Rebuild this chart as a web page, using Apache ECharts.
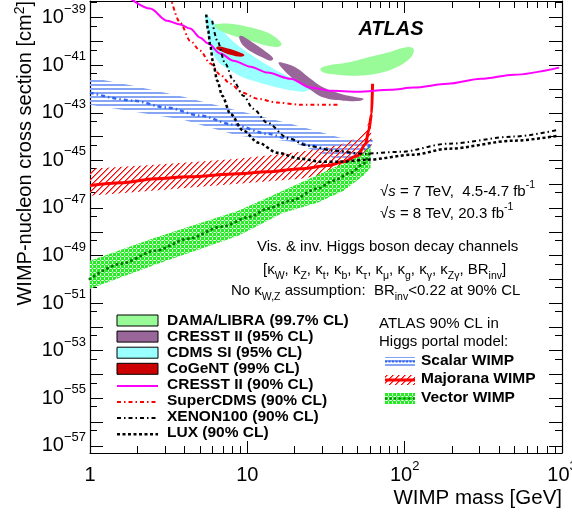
<!DOCTYPE html>
<html><head><meta charset="utf-8">
<script src="https://cdn.jsdelivr.net/npm/echarts@6/dist/echarts.min.js"></script>
<style>html,body{margin:0;padding:0;background:#fff}#c{width:572px;height:516px}</style>
</head><body><div id="c"></div>
<script>
// ---------- DATA (mass in GeV, cross section as log10(sigma / cm^2)) ----------
const xTickValues = [0, 1, 2, 3];                // log10 of 1, 10, 100, 1000 GeV
const yLabelExponents = [-57, -55, -53, -51, -49, -47, -45, -43, -41, -39];

const cresst90Mass = [1.70, 2.41, 3.09, 3.74, 4.33, 5.02, 5.64, 6.73, 8.15, 10.45, 13.4, 18.8, 25.2, 33.8, 50.2, 81.5, 114, 188, 305, 495, 957];
const cresst90Log  = [-38.07, -38.62, -39.13, -39.29, -39.46, -39.84, -40.09, -40.51, -40.81, -41.06, -41.31, -41.57, -41.94, -42.07, -42.11, -42.03, -41.94, -41.78, -41.57, -41.40, -41.10];

const superCdmsMass = [3.23, 3.74, 4.33, 5.02, 5.81, 6.73, 7.79, 9.29, 11.6, 15.5, 21.8, 37.4];
const superCdmsLog  = [-38.07, -39.21, -39.97, -40.39, -40.93, -41.40, -41.78, -42.15, -42.41, -42.57, -42.66, -42.66];

const xenonMass = [5.98, 6.44, 7.24, 8.15, 9.43, 10.9, 13.4, 18.0, 24.1, 35.3, 54.8, 94.3, 188, 495, 957];
const xenonLog  = [-39.13, -39.97, -40.93, -41.65, -42.28, -42.83, -43.42, -44.05, -44.38, -44.59, -44.72, -44.64, -44.30, -44.00, -43.71];

const luxMass = [5.48, 5.64, 5.81, 6.07, 6.44, 6.93, 7.79, 9.43, 11.75, 15.5, 21.8, 29.2, 39.1, 58.1, 114, 188, 495, 957];
const luxLog  = [-38.87, -39.55, -40.18, -40.93, -41.65, -42.28, -43.04, -43.75, -44.26, -44.68, -44.93, -45.06, -45.06, -44.97, -44.76, -44.51, -44.17, -43.96];

const scalarMass = [1, 1.88, 3.09, 5.02, 8.15, 13.4, 18.2, 25.2, 35.3, 50.2, 58.1, 61.7];
const scalarLog  = [-42.15, -42.49, -42.78, -43.12, -43.50, -43.88, -44.09, -44.38, -44.59, -44.72, -44.47, -44.14];
const scalarBandMass  = [1, 1.88, 3.91, 8.76, 18.8, 39.1, 60.7];
const scalarBandUpper = [-41.52, -41.86, -42.32, -42.91, -43.46, -44.05, -44.09];
const scalarBandLower = [-42.66, -42.95, -43.29, -43.96, -44.21, -45.01, -45.10];

const majoranaMass = [1, 1.58, 2.59, 4.21, 8.76, 13.4, 21.8, 32.3, 40.9, 50.2, 56.5, 59.0, 61.7, 62.5];
const majoranaLog  = [-46.06, -45.94, -45.77, -45.69, -45.56, -45.48, -45.35, -45.22, -45.06, -44.80, -44.30, -43.75, -43.04, -41.78];
const majoranaUpperMass = [1, 2.59, 8.76, 21.8, 39.1, 50.2, 56.5, 60.7];
const majoranaUpper     = [-45.35, -45.18, -44.93, -44.64, -44.34, -44.05, -43.67, -43.25];
const majoranaLowerMass = [1, 2.59, 8.76, 21.8, 39.1, 50.2, 59.0, 61.7];
const majoranaLower     = [-46.49, -46.27, -45.98, -45.77, -45.48, -45.27, -44.93, -44.38];

const vectorMass = [1, 1.58, 2.59, 4.21, 6.83, 10.45, 13.4, 18.8, 27.9, 35.3, 45.3, 54.8, 60.7];
const vectorLog  = [-49.98, -49.34, -48.80, -48.29, -47.79, -47.37, -47.03, -46.70, -46.19, -45.85, -45.52, -45.14, -44.59];
const vectorUpperMass = [1, 2.59, 8.76, 13.4, 21.8, 35.3, 52.5, 60.7];
const vectorUpper     = [-49.22, -48.25, -47.12, -46.57, -45.94, -45.31, -44.80, -44.38];
const vectorLowerMass = [1, 2.59, 8.76, 16.9, 27.9, 40.9, 54.8, 60.7];
const vectorLower     = [-50.40, -49.39, -48.17, -47.20, -46.78, -46.28, -45.64, -45.31];

const damaAMass = [6.25, 7.46, 10.0, 12.5, 14.6, 16.5, 15.8, 13.4, 10.45, 8.15, 6.73, 6.25];
const damaALog  = [-39.29, -39.25, -39.38, -39.55, -39.76, -40.09, -40.22, -40.18, -39.97, -39.76, -39.55, -39.38];
const damaBMass = [29.2, 32.3, 43.4, 58.1, 77.9, 98.6, 112, 114, 104, 85.1, 67.3, 50.2, 37.4, 30.5];
const damaBLog  = [-41.14, -41.02, -40.89, -40.68, -40.47, -40.26, -40.26, -40.47, -40.81, -41.14, -41.35, -41.44, -41.40, -41.31];

const cresst95AMass = [9.02, 9.71, 11.6, 13.6, 14.6, 14.0, 12.5, 10.8, 9.43, 8.89];
const cresst95ALog  = [-39.76, -39.84, -40.18, -40.51, -40.72, -40.81, -40.68, -40.47, -40.18, -39.88];
const cresst95BMass = [15.8, 17.5, 20.8, 25.2, 30.5, 39.1, 50.2, 54.8, 52.5, 40.9, 30.5, 24.5, 19.6, 16.7];
const cresst95BLog  = [-40.89, -40.93, -41.14, -41.57, -41.94, -42.20, -42.36, -42.41, -42.49, -42.49, -42.36, -41.99, -41.57, -41.14];

const cdmsMass = [5.40, 5.98, 6.73, 8.02, 9.71, 12.1, 16.2, 21.8, 25.9, 22.7, 16.9, 12.6, 9.43, 7.46, 6.44, 5.81, 5.56];
const cdmsLog  = [-38.83, -39.13, -39.46, -39.97, -40.39, -40.81, -41.31, -41.73, -41.94, -42.11, -41.99, -41.78, -41.52, -41.14, -40.81, -40.26, -39.55];

const cogentMass = [6.44, 7.24, 8.39, 9.57, 9.16, 7.79, 6.93, 6.35];
const cogentLog  = [-40.22, -40.26, -40.39, -40.56, -40.64, -40.56, -40.43, -40.30];

// ---------- STYLE ----------
const FONT = '"Liberation Sans", Arial, Helvetica, sans-serif';
const LG = Math.log10;

function makePattern(w, h, draw) {
  const c = document.createElement('canvas'); c.width = w; c.height = h;
  const g = c.getContext('2d'); draw(g);
  return { image: c, repeat: 'repeat' };
}
const blueDraw = g => { g.fillStyle = 'rgb(135,165,245)'; g.fillRect(0, 0, 4, 2); };
const redDraw = g => {
  g.fillStyle = '#ff0000';
  for (let i = 0; i < 6; i++) g.fillRect(i, 5 - i, 1, 1);
  g.fillStyle = 'rgb(255,120,120)';
  for (let i = 0; i < 6; i++) g.fillRect((i + 1) % 6, 5 - i, 1, 1);
};
const greenDraw = g => {
  g.fillStyle = 'rgb(40,235,40)'; g.fillRect(0, 0, 4, 4);
  g.fillStyle = 'rgb(170,250,170)';
  g.fillRect(1, 0, 1, 1); g.fillRect(3, 0, 1, 1); g.fillRect(0, 1, 1, 1); g.fillRect(0, 3, 1, 1);
  g.fillStyle = '#ffffff';
  g.fillRect(2, 0, 1, 1); g.fillRect(0, 2, 1, 1);
};
const bluePat = makePattern(4, 4, blueDraw), bluePatL = makePattern(4, 4, blueDraw);
const redPat = makePattern(6, 6, redDraw), redPatL = makePattern(6, 6, redDraw);
const greenPat = makePattern(4, 4, greenDraw), greenPatL = makePattern(4, 4, greenDraw);

function polySeries(name, xs, ys, fill, z, smooth) {
  return {
    type: 'custom', name, z, silent: true, clip: true,
    data: [[LG(xs[0]), ys[0]]],
    renderItem: (params, api) => ({
      type: 'polygon',
      shape: { points: xs.map((m, i) => api.coord([LG(m), ys[i]])), smooth: smooth || 0 },
      style: { fill: fill, stroke: null }
    })
  };
}
function bandSeries(name, xu, yu, xl, yl, fill, z) {
  const xs = xu.concat(xl.slice().reverse());
  const ys = yu.concat(yl.slice().reverse());
  return polySeries(name, xs, ys, fill, z, 0);
}
function lineSeries(name, xs, ys, color, width, type, z, cap) {
  return {
    type: 'line', name, z, silent: true, clip: true, showSymbol: false, symbol: 'none',
    smooth: 0.3, smoothMonotone: 'x',
    data: xs.map((m, i) => [LG(m), ys[i]]),
    lineStyle: { color, width, type, cap: cap || 'butt' }
  };
}

const xMinor = [];
for (let d = 0; d < 3; d++) for (let k = 2; k <= 9; k++) xMinor.push(d + LG(k));
const yMajor = [];
for (let n = -57; n <= -39; n++) yMajor.push(n);
const yMinor = [];
for (let n = -57; n <= -38; n++) yMinor.push(n - 0.35);

const tickStyle = { color: '#000', width: 1 };
const lineSt = { show: true, onZero: false, lineStyle: { color: '#000', width: 1.2 } };
const noLine = { show: false, onZero: false };
const labelRich = {
  b: { fontSize: 20, fontFamily: FONT, lineHeight: 30, color: '#000' },
  s: { fontSize: 13, fontFamily: FONT, verticalAlign: 'top', lineHeight: 13, color: '#000' }
};

function xAx(pos, ticks, len, line, labels) {
  return {
    type: 'value', position: pos, min: 0, max: 3, gridIndex: 0,
    axisLine: line ? lineSt : noLine,
    axisTick: { show: true, inside: true, length: len, customValues: ticks, lineStyle: tickStyle },
    axisLabel: labels ? {
      show: true, customValues: xTickValues, margin: 7, rich: labelRich,
      formatter: v => v < 0.5 ? '{b|1}' : (v < 1.5 ? '{b|10}' : '{b|10}{s|' + Math.round(v) + '}')
    } : { show: false },
    splitLine: { show: false }, axisPointer: { show: false }
  };
}
function yAx(pos, ticks, len, line, labels) {
  return {
    type: 'value', position: pos, min: -57.3, max: -38.3, gridIndex: 0,
    axisLine: line ? lineSt : noLine,
    axisTick: { show: true, inside: true, length: len, customValues: ticks, lineStyle: tickStyle },
    axisLabel: labels ? {
      show: true, customValues: yLabelExponents, margin: 4, rich: labelRich,
      formatter: v => '{b|10}{s|\u2212' + Math.round(-v) + '}'
    } : { show: false },
    splitLine: { show: false }, axisPointer: { show: false }
  };
}

const txtRich = (fs) => ({
  n: { fontSize: fs, fontFamily: FONT, lineHeight: 24, color: '#000' },
  it: { fontSize: fs, fontFamily: FONT, fontStyle: 'italic', lineHeight: 24, color: '#000' },
  sup: { fontSize: fs * 0.7, fontFamily: FONT, verticalAlign: 'top', lineHeight: 12, color: '#000' },
  sub: { fontSize: fs * 0.7, fontFamily: FONT, verticalAlign: 'bottom', lineHeight: 12, color: '#000' }
});
function richText(x, y, text, fs, align) {
  return { type: 'text', x, y, z: 100, silent: true,
    style: { text, rich: txtRich(fs), align: align || 'left', verticalAlign: 'middle' } };
}
function plainText(x, y, text, font, align) {
  return { type: 'text', x, y, z: 100, silent: true,
    style: { text, font, fill: '#000', align: align || 'left', verticalAlign: 'middle' } };
}

const legBoldFont = 'bold 15.5px ' + FONT;
const legX = 117, legW = 41, legText = 167, legRow0 = 320.5, legStep = 16.1;
const legend = [];
const boxItems = [['DAMA/LIBRA (99.7% CL)', '#98fb98'], ['CRESST II (95% CL)', '#996699'], ['CDMS SI (95% CL)', '#99ffff'], ['CoGeNT (99% CL)', '#cc0000']];
boxItems.forEach((it, i) => {
  const yc = legRow0 + i * legStep;
  legend.push({ type: 'rect', z: 100, silent: true, shape: { x: legX, y: yc - 5.5, width: legW, height: 11 }, style: { fill: it[1], stroke: '#000', lineWidth: 1 } });
  legend.push(plainText(legText, yc, it[0], legBoldFont));
});
const lineItems = [['CRESST II (90% CL)', '#ff00ff', null, 2], ['SuperCDMS (90% CL)', '#ff0000', [4, 3, 1.5, 3], 2], ['XENON100 (90% CL)', '#000', [4, 3, 1.5, 3], 2], ['LUX (90% CL)', '#000', [3, 2.5], 2.5]];
lineItems.forEach((it, i) => {
  const yc = legRow0 + (i + 4) * legStep;
  legend.push({ type: 'line', z: 100, silent: true, shape: { x1: legX, y1: yc + 1, x2: legX + legW, y2: yc + 1 }, style: { stroke: it[1], lineWidth: it[3], lineDash: it[2] } });
  legend.push(plainText(legText, yc, it[0], legBoldFont));
});
// right legend
const rX = 385, rW = 30;
legend.push({ type: 'rect', z: 100, silent: true, shape: { x: rX, y: 357, width: rW, height: 9 }, style: { fill: bluePatL } });
legend.push({ type: 'line', z: 101, silent: true, shape: { x1: rX, y1: 361.5, x2: rX + rW, y2: 361.5 }, style: { stroke: '#3366ee', lineWidth: 2, lineDash: [2, 1.5] } });
legend.push(plainText(421, 361, 'Scalar WIMP', legBoldFont));
legend.push({ type: 'rect', z: 100, silent: true, shape: { x: rX, y: 375, width: rW, height: 10 }, style: { fill: redPatL } });
legend.push({ type: 'line', z: 101, silent: true, shape: { x1: rX, y1: 380, x2: rX + rW, y2: 380 }, style: { stroke: '#ff0000', lineWidth: 3 } });
legend.push(plainText(421, 379, 'Majorana WIMP', legBoldFont));
legend.push({ type: 'rect', z: 100, silent: true, shape: { x: rX, y: 393, width: rW, height: 11 }, style: { fill: greenPatL } });
legend.push({ type: 'line', z: 101, silent: true, shape: { x1: rX + 1, y1: 398.5, x2: rX + rW, y2: 398.5 }, style: { stroke: '#008800', lineWidth: 2.5, lineDash: [0.1, 4.5], lineCap: 'round' } });
legend.push(plainText(421, 397.5, 'Vector WIMP', legBoldFont));

const texts = [
  { type: 'text', x: 391, y: 29, z: 100, silent: true, style: { text: 'ATLAS', font: 'italic bold 20px ' + FONT, fill: '#000', align: 'center', verticalAlign: 'middle' } },
  richText(380, 192, '{n|\u221A}{it|s}{n| = 7 TeV,  4.5-4.7 fb}{sup|-1}', 15),
  richText(380, 214, '{n|\u221A}{it|s}{n| = 8 TeV, 20.3 fb}{sup|-1}', 15),
  richText(257, 247, '{n|Vis. & inv. Higgs boson decay channels}', 15),
  richText(263, 270, '{n|[\u03BA}{sub|W}{n|, \u03BA}{sub|Z}{n|, \u03BA}{sub|t}{n|, \u03BA}{sub|b}{n|, \u03BA}{sub|\u03C4}{n|, \u03BA}{sub|\u03BC}{n|, \u03BA}{sub|g}{n|, \u03BA}{sub|\u03B3}{n|, \u03BA}{sub|Z\u03B3}{n|, BR}{sub|inv}{n|]}', 15),
  richText(231, 291, '{n|No \u03BA}{sub|W,Z}{n| assumption:  BR}{sub|inv}{n|<0.22 at 90% CL}', 15),
  plainText(379, 324, 'ATLAS 90% CL in', '15px ' + FONT),
  plainText(379, 342, 'Higgs portal model:', '15px ' + FONT),
  richText(562, 498, '{n|WIMP mass [GeV]}', 20.5, 'right'),
  { type: 'text', x: 25, y: 1, z: 100, silent: true, rotation: Math.PI / 2,
    style: { text: '{n|WIMP-nucleon cross section [cm}{sup|2}{n|]}', rich: txtRich(20), align: 'right', verticalAlign: 'middle' } }
];

const option = {
  animation: false,
  backgroundColor: '#ffffff',
  grid: { left: 90, right: 10, top: 1, bottom: 63, show: false, containLabel: false, outerBoundsMode: 'none' },
  xAxis: [xAx('bottom', xTickValues, 12, true, true), xAx('bottom', xMinor, 7, false, false), xAx('top', xTickValues, 12, true, false), xAx('top', xMinor, 7, false, false)],
  yAxis: [yAx('left', yMajor, 13, true, true), yAx('left', yMinor, 7, false, false), yAx('right', yMajor, 13, true, false), yAx('right', yMinor, 7, false, false)],
  series: [
    polySeries('CDMS SI (95% CL)', cdmsMass, cdmsLog, '#99ffff', 2, 0.3),
    polySeries('DAMA/LIBRA a', damaAMass, damaALog, '#98fb98', 3, 0.4),
    polySeries('DAMA/LIBRA b', damaBMass, damaBLog, '#98fb98', 3, 0.4),
    polySeries('CRESST II a', cresst95AMass, cresst95ALog, '#996699', 4, 0.4),
    polySeries('CRESST II b', cresst95BMass, cresst95BLog, '#996699', 4, 0.4),
    polySeries('CoGeNT', cogentMass, cogentLog, '#cc0000', 5, 0.4),
    bandSeries('Scalar band', scalarBandMass, scalarBandUpper, scalarBandMass, scalarBandLower, bluePat, 6),
    bandSeries('Majorana band', majoranaUpperMass, majoranaUpper, majoranaLowerMass, majoranaLower, redPat, 7),
    bandSeries('Vector band', vectorUpperMass, vectorUpper, vectorLowerMass, vectorLower, greenPat, 8),
    lineSeries('Scalar WIMP', scalarMass, scalarLog, '#3366ee', 2.5, [4, 3, 1.5, 3], 9),
    lineSeries('Majorana WIMP', majoranaMass, majoranaLog, '#ff0000', 3, 'solid', 9),
    lineSeries('Vector WIMP', vectorMass, vectorLog, '#007700', 3, [0.1, 5], 9, 'round'),
    lineSeries('CRESST II (90% CL)', cresst90Mass, cresst90Log, '#ff00ff', 2, 'solid', 10),
    lineSeries('SuperCDMS (90% CL)', superCdmsMass, superCdmsLog, '#ff0000', 2, [4, 3, 1.5, 3], 11),
    lineSeries('XENON100 (90% CL)', xenonMass, xenonLog, '#000000', 2, [4, 3, 1.5, 3], 12),
    lineSeries('LUX (90% CL)', luxMass, luxLog, '#000000', 2.5, [3, 2.5], 13)
  ],
  graphic: legend.concat(texts)
};
const chart = echarts.init(document.getElementById('c'), null, { renderer: 'canvas' });
chart.setOption(option);
</script></body></html>
